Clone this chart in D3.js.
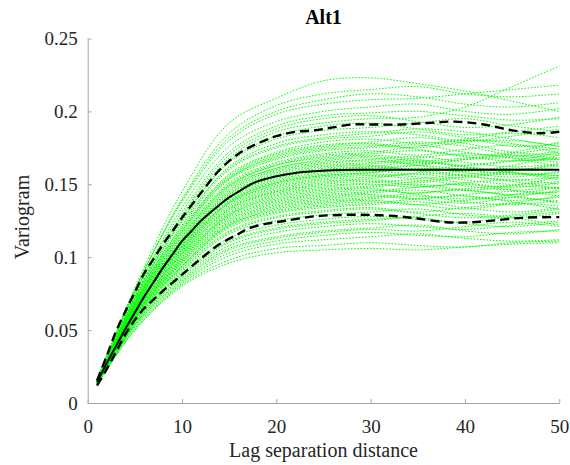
<!DOCTYPE html>
<html>
  <head>
    <meta charset="utf-8">
    <title>Alt1 variogram</title>
    <script src="https://d3js.org/d3.v7.min.js"></script>
    <style>
      body { margin: 0; background: #ffffff; }
    </style>
  </head>
  <body>
    <svg width="570" height="465"></svg>
    <script>
      // lags at which the simulated variograms were read off
      var simLags = [1, 5, 10, 15, 20, 25, 30, 35, 40, 45, 50];

      // simulated variograms (green dotted)
      var simValues = [
        [0.016, 0.079, 0.145, 0.192, 0.209, 0.221, 0.223, 0.219, 0.214, 0.207, 0.200],
        [0.015, 0.077, 0.140, 0.185, 0.204, 0.212, 0.215, 0.217, 0.212, 0.210, 0.212],
        [0.016, 0.078, 0.138, 0.180, 0.198, 0.205, 0.208, 0.209, 0.212, 0.215, 0.218],
        [0.015, 0.075, 0.134, 0.176, 0.193, 0.200, 0.203, 0.205, 0.200, 0.198, 0.202],
        [0.016, 0.076, 0.131, 0.172, 0.190, 0.197, 0.199, 0.200, 0.197, 0.194, 0.195],
        [0.015, 0.073, 0.128, 0.168, 0.186, 0.192, 0.195, 0.196, 0.203, 0.217, 0.231],
        [0.014, 0.072, 0.126, 0.166, 0.183, 0.190, 0.192, 0.188, 0.184, 0.186, 0.190],
        [0.015, 0.073, 0.125, 0.165, 0.181, 0.187, 0.189, 0.192, 0.195, 0.190, 0.186],
        [0.014, 0.071, 0.122, 0.162, 0.178, 0.184, 0.186, 0.184, 0.180, 0.183, 0.188],
        [0.015, 0.071, 0.121, 0.160, 0.175, 0.181, 0.183, 0.186, 0.182, 0.176, 0.178],
        [0.014, 0.070, 0.119, 0.157, 0.172, 0.179, 0.181, 0.178, 0.181, 0.185, 0.182],
        [0.015, 0.069, 0.118, 0.156, 0.171, 0.177, 0.179, 0.182, 0.178, 0.172, 0.170],
        [0.014, 0.069, 0.117, 0.154, 0.169, 0.175, 0.177, 0.175, 0.179, 0.180, 0.176],
        [0.013, 0.068, 0.116, 0.153, 0.167, 0.173, 0.175, 0.177, 0.172, 0.169, 0.173],
        [0.014, 0.068, 0.114, 0.151, 0.165, 0.171, 0.173, 0.170, 0.174, 0.177, 0.174],
        [0.015, 0.067, 0.113, 0.149, 0.163, 0.169, 0.171, 0.173, 0.169, 0.166, 0.168],
        [0.014, 0.067, 0.112, 0.148, 0.161, 0.167, 0.169, 0.166, 0.168, 0.171, 0.175],
        [0.013, 0.066, 0.111, 0.146, 0.160, 0.165, 0.167, 0.169, 0.165, 0.162, 0.164],
        [0.014, 0.066, 0.110, 0.145, 0.159, 0.164, 0.166, 0.164, 0.167, 0.168, 0.165],
        [0.015, 0.065, 0.109, 0.143, 0.157, 0.162, 0.164, 0.166, 0.162, 0.160, 0.163],
        [0.014, 0.065, 0.108, 0.142, 0.155, 0.160, 0.162, 0.160, 0.163, 0.166, 0.167],
        [0.013, 0.064, 0.107, 0.141, 0.154, 0.159, 0.161, 0.163, 0.160, 0.157, 0.158],
        [0.014, 0.064, 0.106, 0.139, 0.152, 0.157, 0.159, 0.157, 0.159, 0.161, 0.160],
        [0.013, 0.063, 0.105, 0.138, 0.151, 0.156, 0.158, 0.160, 0.156, 0.153, 0.155],
        [0.014, 0.063, 0.104, 0.137, 0.149, 0.154, 0.156, 0.154, 0.157, 0.158, 0.154],
        [0.013, 0.062, 0.103, 0.136, 0.148, 0.153, 0.155, 0.157, 0.153, 0.150, 0.152],
        [0.014, 0.062, 0.102, 0.134, 0.146, 0.151, 0.153, 0.151, 0.155, 0.157, 0.156],
        [0.013, 0.061, 0.101, 0.133, 0.145, 0.149, 0.151, 0.153, 0.149, 0.146, 0.148],
        [0.014, 0.061, 0.100, 0.132, 0.144, 0.148, 0.150, 0.148, 0.151, 0.153, 0.150],
        [0.013, 0.060, 0.099, 0.130, 0.142, 0.146, 0.148, 0.150, 0.146, 0.143, 0.145],
        [0.014, 0.060, 0.098, 0.129, 0.140, 0.144, 0.146, 0.144, 0.147, 0.149, 0.147],
        [0.013, 0.059, 0.097, 0.127, 0.138, 0.142, 0.144, 0.146, 0.142, 0.139, 0.141],
        [0.014, 0.059, 0.096, 0.125, 0.136, 0.140, 0.142, 0.140, 0.143, 0.145, 0.144],
        [0.013, 0.058, 0.095, 0.123, 0.134, 0.138, 0.140, 0.142, 0.138, 0.136, 0.139],
        [0.014, 0.058, 0.094, 0.122, 0.132, 0.136, 0.138, 0.136, 0.139, 0.141, 0.138],
        [0.013, 0.057, 0.093, 0.120, 0.130, 0.134, 0.136, 0.138, 0.134, 0.131, 0.134],
        [0.014, 0.057, 0.092, 0.118, 0.128, 0.132, 0.134, 0.131, 0.134, 0.137, 0.135],
        [0.013, 0.056, 0.090, 0.116, 0.125, 0.129, 0.131, 0.133, 0.129, 0.127, 0.130],
        [0.013, 0.055, 0.089, 0.113, 0.122, 0.126, 0.128, 0.126, 0.124, 0.128, 0.131],
        [0.012, 0.055, 0.088, 0.111, 0.120, 0.124, 0.126, 0.127, 0.123, 0.121, 0.124],
        [0.013, 0.054, 0.086, 0.108, 0.117, 0.121, 0.123, 0.121, 0.119, 0.122, 0.125],
        [0.012, 0.053, 0.085, 0.106, 0.114, 0.118, 0.120, 0.122, 0.118, 0.116, 0.119],
        [0.013, 0.052, 0.083, 0.103, 0.111, 0.115, 0.117, 0.115, 0.114, 0.117, 0.118],
        [0.012, 0.051, 0.082, 0.101, 0.109, 0.112, 0.114, 0.116, 0.113, 0.111, 0.112],
        [0.013, 0.050, 0.081, 0.098, 0.106, 0.108, 0.110, 0.108, 0.107, 0.110, 0.111],
        [0.012, 0.050, 0.080, 0.096, 0.103, 0.105, 0.106, 0.105, 0.107, 0.109, 0.110],
        [0.015, 0.072, 0.124, 0.161, 0.176, 0.182, 0.185, 0.188, 0.186, 0.181, 0.176],
        [0.014, 0.070, 0.120, 0.155, 0.170, 0.176, 0.178, 0.174, 0.170, 0.172, 0.179],
        [0.014, 0.068, 0.115, 0.150, 0.164, 0.170, 0.172, 0.176, 0.180, 0.178, 0.171],
        [0.015, 0.067, 0.112, 0.147, 0.161, 0.166, 0.168, 0.163, 0.159, 0.163, 0.170],
        [0.014, 0.066, 0.110, 0.144, 0.158, 0.163, 0.165, 0.168, 0.171, 0.168, 0.162],
        [0.013, 0.065, 0.109, 0.143, 0.156, 0.161, 0.163, 0.159, 0.156, 0.159, 0.164],
        [0.014, 0.064, 0.107, 0.140, 0.153, 0.158, 0.160, 0.163, 0.167, 0.170, 0.168],
        [0.013, 0.063, 0.105, 0.137, 0.150, 0.155, 0.157, 0.155, 0.151, 0.148, 0.151],
        [0.014, 0.062, 0.103, 0.135, 0.147, 0.152, 0.154, 0.158, 0.161, 0.158, 0.153],
        [0.013, 0.062, 0.102, 0.133, 0.145, 0.150, 0.152, 0.149, 0.146, 0.149, 0.155],
        [0.014, 0.061, 0.100, 0.131, 0.143, 0.147, 0.149, 0.152, 0.155, 0.152, 0.147],
        [0.013, 0.060, 0.099, 0.129, 0.141, 0.145, 0.147, 0.143, 0.140, 0.143, 0.148],
        [0.014, 0.060, 0.098, 0.128, 0.139, 0.143, 0.145, 0.148, 0.150, 0.146, 0.142],
        [0.013, 0.059, 0.097, 0.126, 0.137, 0.141, 0.143, 0.140, 0.137, 0.141, 0.146],
        [0.014, 0.059, 0.096, 0.124, 0.135, 0.139, 0.141, 0.144, 0.146, 0.142, 0.137],
        [0.013, 0.058, 0.094, 0.122, 0.133, 0.137, 0.139, 0.136, 0.133, 0.137, 0.142],
        [0.013, 0.057, 0.093, 0.121, 0.131, 0.135, 0.137, 0.140, 0.142, 0.138, 0.133],
        [0.013, 0.056, 0.091, 0.117, 0.127, 0.131, 0.133, 0.130, 0.127, 0.129, 0.133],
        [0.014, 0.068, 0.114, 0.149, 0.163, 0.168, 0.170, 0.167, 0.163, 0.166, 0.172],
        [0.015, 0.069, 0.118, 0.154, 0.168, 0.174, 0.176, 0.179, 0.176, 0.170, 0.167],
        [0.015, 0.074, 0.129, 0.170, 0.188, 0.195, 0.197, 0.193, 0.189, 0.191, 0.196],
        [0.016, 0.077, 0.139, 0.182, 0.200, 0.208, 0.212, 0.210, 0.205, 0.203, 0.206],
        [0.012, 0.054, 0.087, 0.110, 0.119, 0.123, 0.125, 0.128, 0.130, 0.127, 0.122],
        [0.013, 0.053, 0.084, 0.105, 0.113, 0.117, 0.119, 0.118, 0.121, 0.124, 0.121],
        [0.014, 0.064, 0.106, 0.138, 0.151, 0.156, 0.158, 0.161, 0.158, 0.155, 0.159],
        [0.013, 0.064, 0.108, 0.141, 0.155, 0.160, 0.162, 0.165, 0.162, 0.158, 0.156]
      ];

      // fitted model (black solid)
      var modelLags = [1, 2, 3, 4, 5, 6, 7, 8, 9, 10, 11, 12, 14, 15, 16, 17, 18, 20, 22, 24, 26, 28, 30, 40, 50];
      var modelValues = [0.0145, 0.027, 0.039, 0.051, 0.062, 0.073, 0.083, 0.093, 0.102, 0.111, 0.118, 0.125,
                         0.136, 0.141, 0.145, 0.149, 0.152, 0.1555, 0.1578, 0.159, 0.1597, 0.16, 0.16, 0.16, 0.16];

      // upper envelope (black dashed)
      var upperLags = [1, 2, 3, 4, 5, 6, 7, 8, 9, 10, 12, 14, 16, 18, 20, 22, 24, 26, 28, 30, 33, 36, 39, 42, 45, 48, 50];
      var upperValues = [0.0155, 0.032, 0.049, 0.063, 0.076, 0.089, 0.099, 0.109, 0.118, 0.127, 0.144, 0.160,
                         0.171, 0.178, 0.183, 0.186, 0.187, 0.189, 0.191, 0.191, 0.191, 0.192, 0.193, 0.191,
                         0.187, 0.185, 0.186];

      // lower envelope (black dashed)
      var lowerLags = [1, 2, 3, 4, 5, 6, 7, 8, 10, 12, 14, 16, 17, 19, 21, 24, 27, 30, 33, 35, 38, 40, 42, 46, 50];
      var lowerValues = [0.012, 0.023, 0.035, 0.047, 0.057, 0.065, 0.071, 0.077, 0.088, 0.099, 0.109, 0.116,
                         0.1196, 0.123, 0.125, 0.128, 0.129, 0.129, 0.128, 0.1265, 0.124, 0.1238, 0.1245,
                         0.127, 0.1275];

      var xTicks = [0, 10, 20, 30, 40, 50];
      var yTicks = [0, 0.05, 0.1, 0.15, 0.2, 0.25];

      var serif = "'Liberation Serif', Tinos, 'Times New Roman', 'Nimbus Roman', FreeSerif, 'DejaVu Serif', serif";

      var svg = d3.select("svg");

      var xScale = d3.scaleLinear().domain([0, 50]).range([87.7, 559.3]);
      var yScale = d3.scaleLinear().domain([0, 0.25]).range([403, 38.5]);

      var line = d3.line()
          .x(function(d) { return xScale(d[0]); })
          .y(function(d) { return yScale(d[1]); })
          .curve(d3.curveCatmullRom.alpha(0.5));

      function pairs(xs, ys) {
        return xs.map(function(x, i) { return [x, ys[i]]; });
      }

      // green simulations
      svg.append("g")
        .selectAll("path")
        .data(simValues)
        .enter()
        .append("path")
        .attr("d", function(d) { return line(pairs(simLags, d)); })
        .attr("fill", "none")
        .attr("stroke", "#00ff00")
        .attr("stroke-width", 1)
        .attr("stroke-dasharray", "1.6,1.6");

      // model
      svg.append("path")
        .attr("d", line(pairs(modelLags, modelValues)))
        .attr("fill", "none")
        .attr("stroke", "#000000")
        .attr("stroke-width", 2);

      // envelopes
      [pairs(upperLags, upperValues), pairs(lowerLags, lowerValues)].forEach(function(p) {
        svg.append("path")
          .attr("d", line(p))
          .attr("fill", "none")
          .attr("stroke", "#000000")
          .attr("stroke-width", 2.4)
          .attr("stroke-dasharray", "9,5");
      });

      var xAxis = d3.axisBottom(xScale)
          .tickValues(xTicks)
          .tickFormat(d3.format("d"))
          .tickSizeInner(-4)
          .tickSizeOuter(0)
          .tickPadding(24);

      var yAxis = d3.axisLeft(yScale)
          .tickValues(yTicks)
          .tickFormat(function(d) { return d === 0 ? "0" : String(d); })
          .tickSizeInner(-4)
          .tickSizeOuter(0)
          .tickPadding(10);

      var gx = svg.append("g")
          .attr("transform", "translate(0,403)")
          .call(xAxis);

      var gy = svg.append("g")
          .attr("transform", "translate(87.7,0)")
          .call(yAxis);

      [gx, gy].forEach(function(g) {
        g.attr("font-family", serif).attr("font-size", 19);
        g.select(".domain").attr("stroke", "#a6a6a6");
        g.selectAll(".tick line").attr("stroke", "#a6a6a6");
        g.selectAll(".tick text").attr("fill", "#262626");
      });
      gx.selectAll(".tick text").attr("dy", "0").attr("y", 30);

      svg.append("text")
        .attr("x", 323.5)
        .attr("y", 24)
        .attr("text-anchor", "middle")
        .attr("fill", "#000000")
        .attr("font-family", serif)
        .attr("font-size", 20)
        .attr("font-weight", "bold")
        .text("Alt1");

      svg.append("text")
        .attr("x", 323.5)
        .attr("y", 457)
        .attr("text-anchor", "middle")
        .attr("fill", "#262626")
        .attr("font-family", serif)
        .attr("font-size", 20)
        .text("Lag separation distance");

      svg.append("text")
        .attr("transform", "translate(29,217) rotate(-90)")
        .attr("text-anchor", "middle")
        .attr("fill", "#262626")
        .attr("font-family", serif)
        .attr("font-size", 20)
        .text("Variogram");
    </script>
  </body>
</html>
